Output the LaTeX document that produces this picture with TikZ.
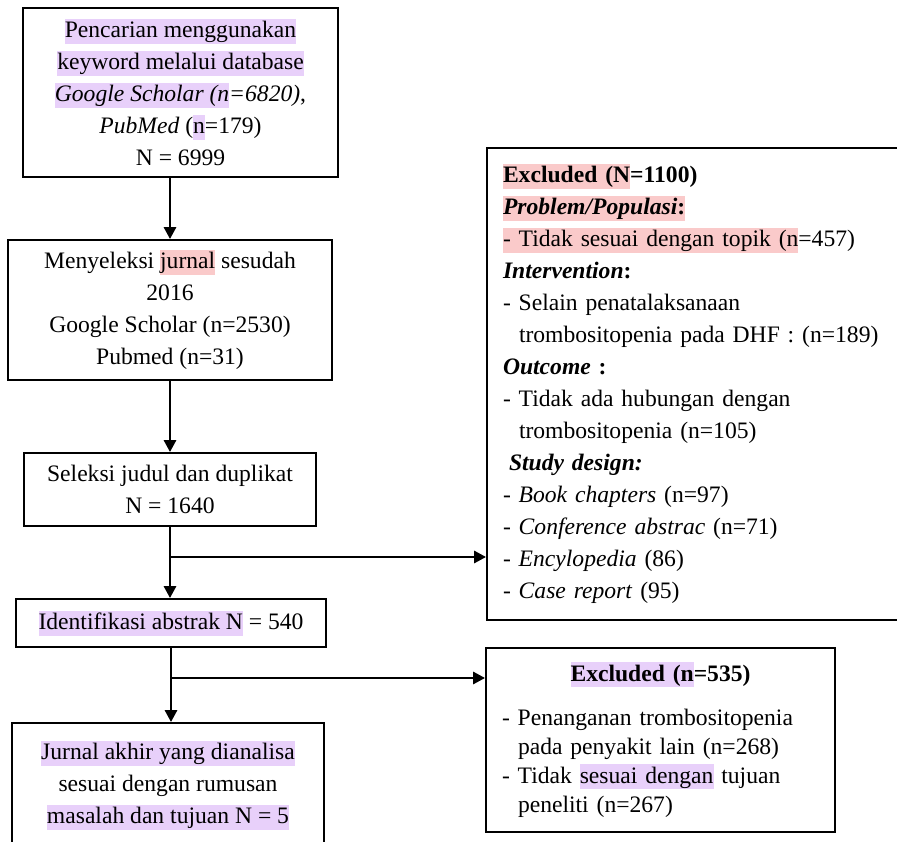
\documentclass[tikz,border=0pt]{standalone}
\usepackage{fontspec}
\setmainfont{Liberation Serif}
\usetikzlibrary{arrows.meta, positioning}

\definecolor{hlpink}{RGB}{250,202,202}
\definecolor{hlpurple}{RGB}{232,208,250}
\newcommand{\hlpk}[1]{{\setlength{\fboxsep}{0pt}\colorbox{hlpink}{\rule[-6pt]{0pt}{25pt}#1}}}
\newcommand{\hlpu}[1]{{\setlength{\fboxsep}{0pt}\colorbox{hlpurple}{\rule[-6pt]{0pt}{25pt}#1}}}

\begin{document}
\begin{tikzpicture}[
    x=1pt, y=-1pt,
    box/.style={draw, line width=1.8pt, align=center, inner sep=0pt,
                font=\fontsize{23.6}{32}\selectfont},
    listbox/.style={box, align=left, inner xsep=16pt},
    flow/.style={line width=2.8pt, -{Triangle[length=12pt,width=12pt]}}
]
\useasboundingbox (0,0) rectangle (897,842);
\clip (0,0) rectangle (897,842);

% left column
\node[box, minimum width=315pt, minimum height=169pt] (search) at (180.5,92.5)
  {\hlpu{Pencarian menggunakan}\\
   \hlpu{keyword melalui database}\\
   \hlpu{\textit{Google Scholar (n}}\textit{=6820)},\\
   \textit{PubMed} (\hlpu{n}=179)\\
   N = 6999};
\node[box, minimum width=324pt, minimum height=140pt] (select) at (170,310)
  {Menyeleksi \hlpk{jurnal} sesudah\\
   2016\\
   Google Scholar (n=2530)\\
   Pubmed (n=31)};
\node[box, minimum width=292pt, minimum height=73pt] (screen) at (170,489.5)
  {Seleksi judul dan duplikat\\
   N = 1640};
\node[box, minimum width=310pt, minimum height=48pt] (ident) at (171,623)
  {\hlpu{Identifikasi abstrak N} = 540};
\node[box, minimum width=312pt, minimum height=124pt] (final) at (168,785)
  {\hlpu{Jurnal akhir yang dianalisa}\\
   sesuai dengan rumusan\\
   \hlpu{masalah dan tujuan N = 5}};

% right column
\node[listbox, text width=391pt, minimum height=472pt] (excl1) at (698.5,384)
  {\textbf{\hlpk{Excluded (N}=1100)}\\
   \hlpk{\textbf{\textit{Problem/Populasi}:}}\\
   \hlpk{- Tidak sesuai dengan topik (n}=457)\\
   \textbf{\textit{Intervention}:}\\
   - Selain penatalaksanaan\\
   \hspace*{16pt}trombositopenia pada DHF : (n=189)\\
   \textbf{\textit{Outcome} :}\\
   - Tidak ada hubungan dengan\\
   \hspace*{16pt}trombositopenia (n=105)\\
   \hspace*{6pt}\textbf{\textit{Study design:}}\\
   - \textit{Book chapters} (n=97)\\
   - \textit{Conference abstrac} (n=71)\\
   - \textit{Encylopedia} (86)\\
   - \textit{Case report} (95)};
\node[listbox, text width=317pt, minimum height=184pt,
      font=\fontsize{23.6}{29}\selectfont] (excl2) at (660.5,740)
  {\makebox[317pt][c]{\textbf{\hlpu{Excluded (n}=535)}}\\[15pt]
   - Penanganan trombositopenia\\
   \hspace*{16pt}pada penyakit lain (n=268)\\
   - Tidak \hlpu{sesuai dengan} tujuan\\
   \hspace*{16pt}peneliti (n=267)};

% connectors
\coordinate (split1) at (170,557);
\coordinate (split2) at (171,678);
\draw[flow] (search.south -| select.north) -- (select.north);
\draw[flow] (select.south) -- (screen.north);
\draw[flow] (screen.south) -- (screen.south |- ident.north);
\draw[flow] (split1) -- (split1 -| excl1.west);
\draw[flow] (ident.south) -- (ident.south |- final.north);
\draw[flow] (split2) -- (split2 -| excl2.west);
\end{tikzpicture}
\end{document}
